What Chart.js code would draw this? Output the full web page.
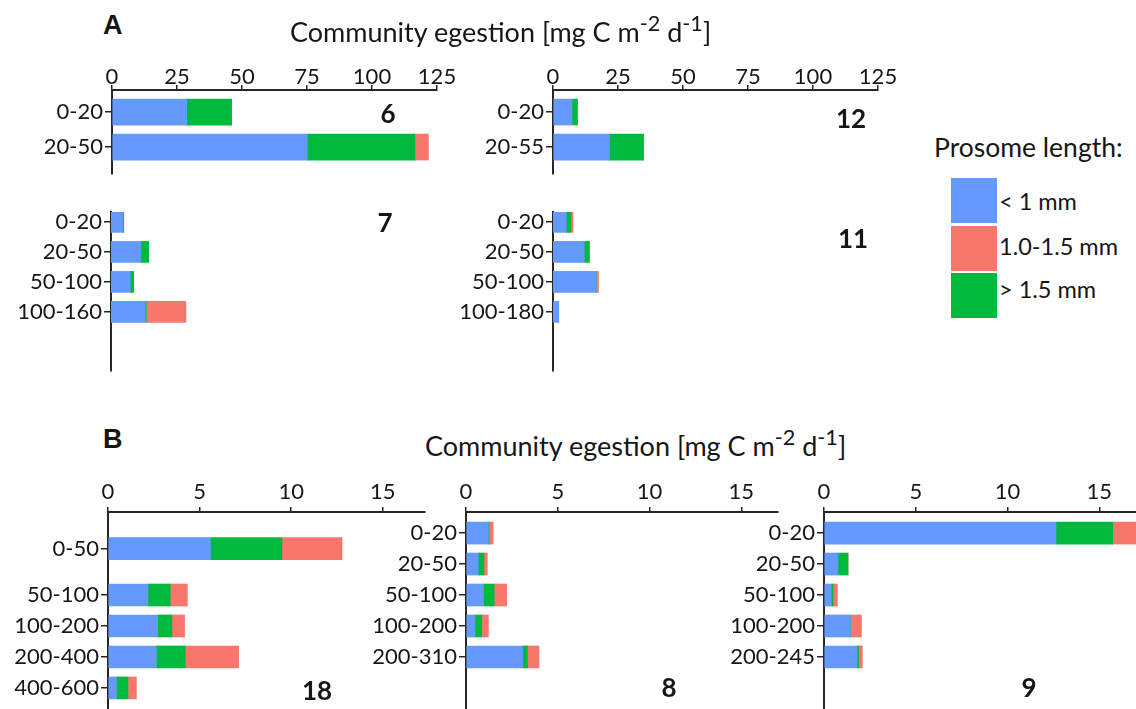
<!DOCTYPE html>
<html><head><meta charset="utf-8">
<script src="https://cdn.jsdelivr.net/npm/chart.js@4.4.1/dist/chart.umd.min.js"></script>
<style>
html,body{margin:0;padding:0;background:#fff;width:1136px;height:709px;overflow:hidden;position:relative;font-family:Lato,sans-serif;color:#161616}
canvas{position:absolute}
.t{position:absolute;white-space:nowrap;line-height:1}
.t sup{font-size:0.8em;line-height:0;vertical-align:0.5em}
.box{position:absolute}
</style></head><body>
<script>
// ---------- DATA ----------
const sizeClasses = ['< 1 mm', '1.0-1.5 mm', '> 1.5 mm'];
const stdStrata = ['0-20', '20-50', '50-100', '100-200', '200-400', '400-600'];
const ticksA = [0, 25, 50, 75, 100, 125];
const ticksB = [0, 5, 10, 15];

// Panel A (mg C m-2 d-1): small (<1 mm), medium (1.0-1.5 mm), large (>1.5 mm)
const depths6 = ['0-20', '20-50'];
const small6 = [28.7, 75.1];
const medium6 = [0, 5.2];
const large6 = [17.3, 41.4];

const depths12 = ['0-20', '20-55'];
const small12 = [7.3, 21.7];
const medium12 = [0, 0];
const large12 = [2.1, 13.1];

const depths7 = ['0-20', '20-50', '50-100', '100-160'];
const small7 = [4.6, 11.5, 7.4, 13.2];
const medium7 = [0, 0, 0, 15.2];
const large7 = [0.3, 3.0, 1.3, 0.4];

const depths11 = ['0-20', '20-50', '50-100', '100-180'];
const small11 = [5.1, 12.0, 16.7, 2.2];
const medium11 = [0.8, 0, 0.8, 0];
const large11 = [1.8, 2.0, 0, 0];

// Panel B
const depths18 = ['0-50', '50-100', '100-200', '200-400', '400-600'];
const small18 = [5.59, 2.18, 2.71, 2.64, 0.46];
const medium18 = [3.28, 0.93, 0.69, 2.91, 0.46];
const large18 = [3.90, 1.22, 0.78, 1.58, 0.63];

const depths8 = ['0-20', '20-50', '50-100', '100-200', '200-310'];
const small8 = [1.22, 0.67, 0.95, 0.49, 3.09];
const medium8 = [0.23, 0.18, 0.69, 0.36, 0.63];
const large8 = [0.03, 0.31, 0.58, 0.37, 0.26];

const depths9 = ['0-20', '20-50', '50-100', '100-200', '200-245'];
const small9 = [12.64, 0.76, 0.40, 1.44, 1.80];
const medium9 = [1.30, 0, 0.24, 0.60, 0.20];
const large9 = [3.09, 0.55, 0.09, 0, 0.09];

// ---------- STYLE ----------
const colors = { small: '#659AFD', medium: '#F7776D', large: '#00BA3D' };
const axisColor = '#262626';
const textColor = '#161616';
Chart.defaults.font.family = 'Lato, sans-serif';
Chart.defaults.color = textColor;

function rowOf(label) {
  const [s, e] = label.split('-').map(Number);
  const inside = stdStrata.map((d, i) => [...d.split('-').map(Number), i]).filter(([a, b]) => a >= s && b <= e);
  if (inside.length) return inside.reduce((t, x) => t + x[2], 0) / inside.length;
  return stdStrata.findIndex(d => +d.split('-')[0] === s);
}

function panel(depths, small, medium, large, g) {
  const YW = 110, XH = 45, PR = 30, PB = 20;
  const topSpace = g.showX ? XH : 20;
  const W = (g.r - g.l) + YW + PR, H = (g.b - g.t) + topSpace + PB;
  const c = document.createElement('canvas');
  c.width = W; c.height = H;
  c.style.left = (g.l - YW) + 'px'; c.style.top = (g.t - topSpace) + 'px';
  c.style.width = W + 'px'; c.style.height = H + 'px';
  document.body.appendChild(c);
  const rows = depths.map(rowOf);
  const mk = (label, vals, col) => ({
    label, backgroundColor: col, borderWidth: 0, barThickness: g.bar,
    data: rows.map((y, i) => ({ x: vals[i], y }))
  });
  new Chart(c, {
    type: 'bar',
    data: { datasets: [
      mk(sizeClasses[0], small, colors.small),
      mk(sizeClasses[2], large, colors.large),
      mk(sizeClasses[1], medium, colors.medium)
    ] },
    options: {
      indexAxis: 'y', responsive: false, animation: false, events: [],
      layout: { autoPadding: false, padding: { left: 0, right: PR, top: g.showX ? 0 : 20, bottom: PB } },
      plugins: { legend: { display: false }, tooltip: { enabled: false } },
      scales: {
        x: {
          type: 'linear', position: 'top', stacked: true, min: 0, max: g.xMax, display: g.showX,
          offset: false,
          afterFit: s => { s.height = g.showX ? XH : 0; },
          afterBuildTicks: s => { s.ticks = g.xTicks.map(v => ({ value: v })); },
          border: { display: true, color: axisColor, width: 2 },
          grid: { offset: false, drawOnChartArea: false, drawTicks: true, tickLength: 5, color: axisColor, lineWidth: 1.5 },
          ticks: { padding: g.tickPad, color: textColor, font: { size: 22 }, maxRotation: 0, autoSkip: false }
        },
        y: {
          type: 'linear', reverse: true, stacked: true, min: g.yMin, max: g.yMax,
          offset: false, bounds: 'data',
          afterFit: s => { s.width = YW; },
          afterBuildTicks: s => { s.ticks = rows.map(v => ({ value: v })); },
          border: { display: true, color: axisColor, width: 2 },
          grid: { offset: false, drawOnChartArea: false, drawTicks: true, tickLength: 7, color: axisColor, lineWidth: 1.5 },
          ticks: { padding: 2, color: textColor, font: { size: 22 }, autoSkip: false, callback: (v, i) => depths[i] }
        }
      }
    }
  });
}

const gA1 = { t: 90, b: 174, yMin: -0.63, yMax: 1.77, showX: true, xMax: 125, xTicks: ticksA, tickPad: -5, bar: 26 };
const gA2 = { t: 212, b: 371, yMin: -0.33, yMax: 4.97, showX: false, xMax: 125, xTicks: ticksA, tickPad: -5, bar: 21 };
const gB = { t: 512, b: 709, yMin: -0.68, yMax: 5.68, showX: true, xTicks: ticksB, tickPad: 2, bar: 22 };

panel(depths6, small6, medium6, large6, { ...gA1, l: 112, r: 437 });
panel(depths12, small12, medium12, large12, { ...gA1, l: 553, r: 878 });
panel(depths7, small7, medium7, large7, { ...gA2, l: 111, r: 436 });
panel(depths11, small11, medium11, large11, { ...gA2, l: 553, r: 878 });
panel(depths18, small18, medium18, large18, { ...gB, l: 108, r: 425, xMax: 17.3 });
panel(depths8, small8, medium8, large8, { ...gB, l: 466, r: 778, xMax: 17 });
panel(depths9, small9, medium9, large9, { ...gB, l: 824, r: 1136, xMax: 17 });

// ---------- TEXT ----------
function baselineOf(size, weight, family) {
  const d = document.createElement('div');
  d.className = 't';
  d.style.top = '0px'; d.style.left = '0px'; d.style.visibility = 'hidden';
  d.style.fontSize = size + 'px'; d.style.fontWeight = weight; d.style.fontFamily = family;
  d.innerHTML = 'Hg<span style="display:inline-block;width:1px;height:0;vertical-align:baseline"></span>';
  document.body.appendChild(d);
  const b = d.lastChild.offsetTop;
  d.remove();
  return b;
}
function text(html, x, base, size, opt = {}) {
  const weight = opt.bold ? 700 : 400;
  const family = opt.family || 'Lato, sans-serif';
  const d = document.createElement('div');
  d.className = 't';
  d.innerHTML = html;
  d.style.fontSize = size + 'px';
  d.style.fontWeight = weight;
  d.style.fontFamily = family;
  d.style.left = x + 'px';
  d.style.top = (base - baselineOf(size, weight, family)) + 'px';
  if (opt.center) d.style.transform = 'translateX(-50%)';
  document.body.appendChild(d);
}
const axisTitle = 'Community egestion [mg C m<sup>-2</sup> d<sup>-1</sup>]';
const boldSans = '"Liberation Sans", Arial, sans-serif';
text('A', 103, 34, 27, { bold: true, family: boldSans });
text('B', 103, 448, 27, { bold: true, family: boldSans });
text(axisTitle, 290, 41.5, 27);
text(axisTitle, 425, 456, 27);
text('6', 388, 123, 26, { bold: true, center: true });
text('12', 851, 128, 26, { bold: true, center: true });
text('7', 385, 232, 26, { bold: true, center: true });
text('11', 853, 248, 26, { bold: true, center: true });
text('18', 317, 700, 26, { bold: true, center: true });
text('8', 669, 697, 26, { bold: true, center: true });
text('9', 1029, 697, 26, { bold: true, center: true });

// legend
text('Prosome length:', 934, 157, 26.5);
const legendItems = [[sizeClasses[0], colors.small, 178, 210], [sizeClasses[1], colors.medium, 226, 255], [sizeClasses[2], colors.large, 273, 298]];
legendItems.forEach(([lab, col, top, base]) => {
  const b = document.createElement('div');
  b.className = 'box';
  b.style.left = '951px'; b.style.top = top + 'px'; b.style.width = '46px'; b.style.height = '45px';
  b.style.background = col;
  document.body.appendChild(b);
  text(lab.replace('<', '&lt;').replace('>', '&gt;'), 999, base, 23.5);
});
</script>
</body></html>
